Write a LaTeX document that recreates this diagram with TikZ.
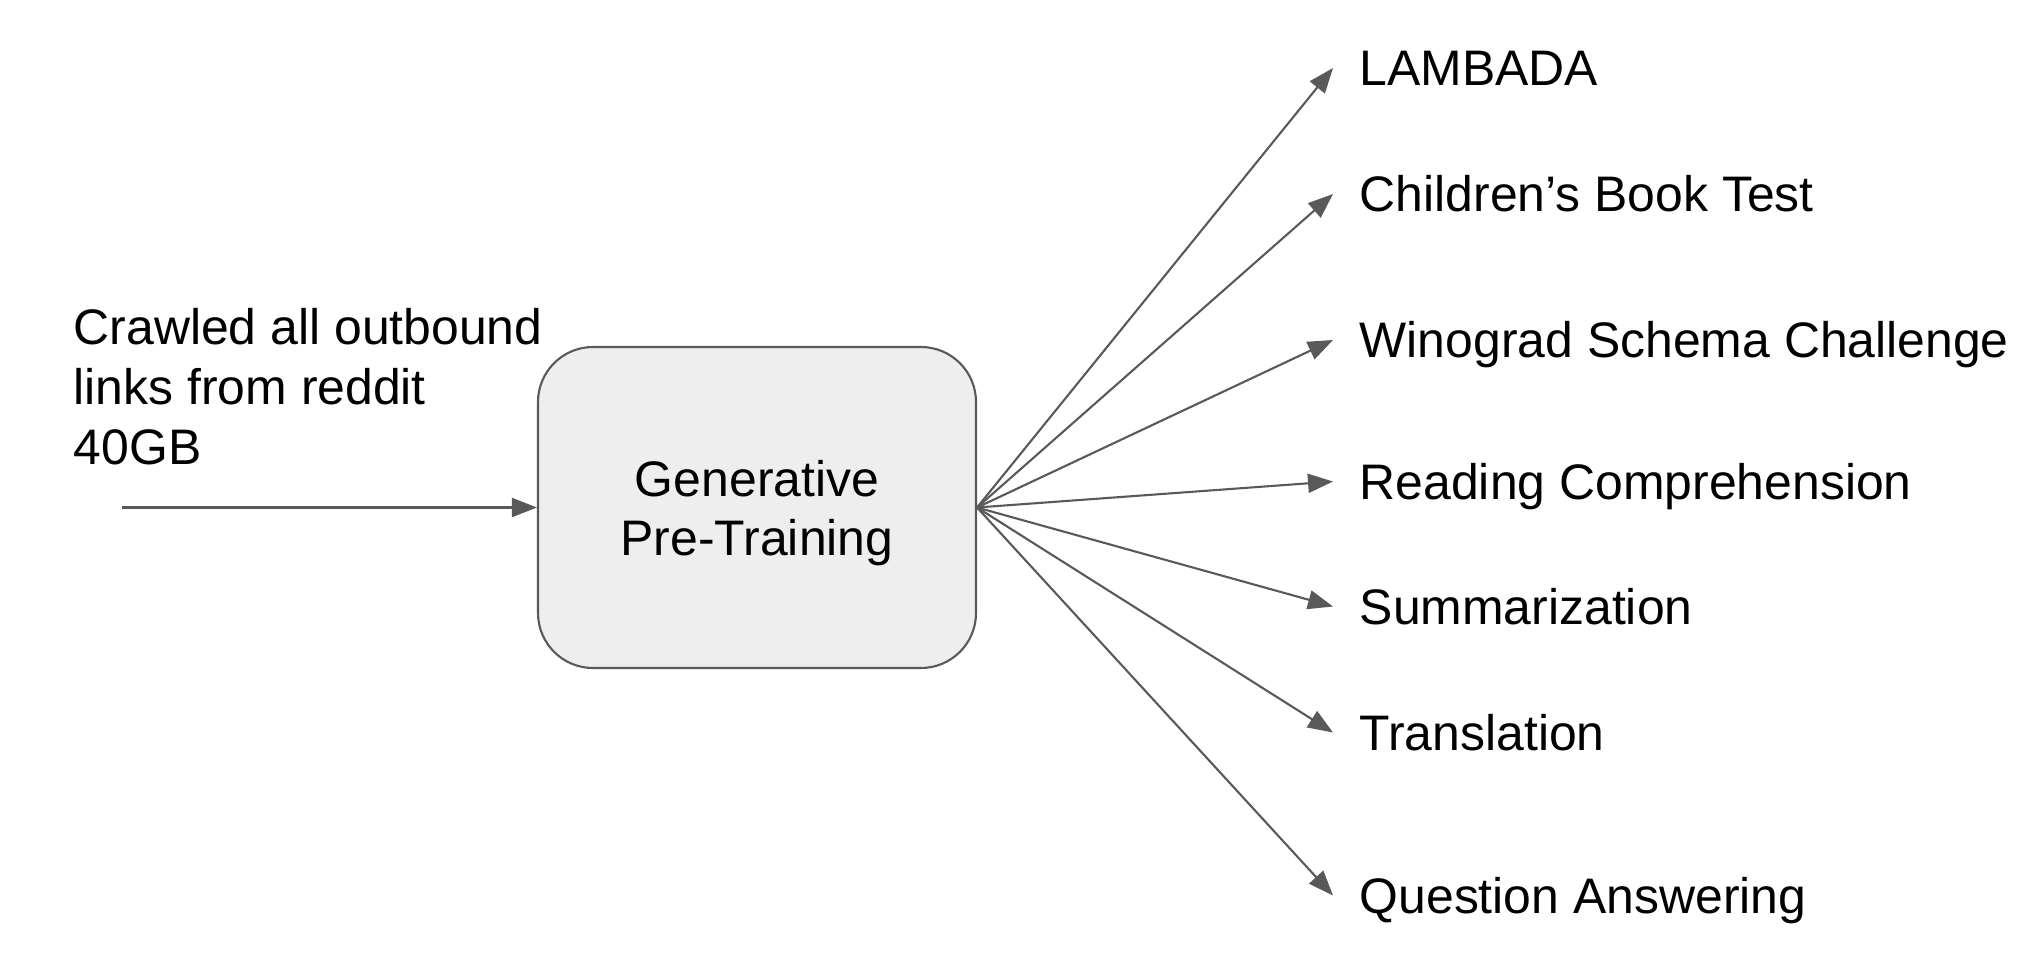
\documentclass[tikz,border=0pt]{standalone}
\usepackage{fontspec}
\setmainfont{Liberation Sans}
\usepackage{xcolor}
\usetikzlibrary{arrows.meta}
\definecolor{linegray}{HTML}{595959}
\definecolor{boxgray}{HTML}{EEEEEE}
\tikzset{
 task/.style={anchor=west,inner xsep=2.6mm,inner ysep=0pt,text height=3.55mm,text depth=0pt},
 arr/.style={-{Triangle[length=2.5mm,width=1.9mm]},line width=0.21mm,linegray},
}
\begin{document}
\begin{tikzpicture}[x=0.1mm,y=-0.1mm,font=\fontsize{14.2pt}{17pt}\selectfont]
 	\useasboundingbox (0,0) rectangle (2039,978);
 	\node[draw=linegray,fill=boxgray,line width=0.21mm,rounded corners=5.5mm,minimum width=43.8mm,minimum height=32.1mm,align=center,text depth=0pt,font=\fontsize{14.2pt}{16.8pt}\selectfont] (gpt) at (757,507.5) {Generative\\Pre-Training};
 	\node[anchor=north west,inner sep=0pt,align=left] (crawl) at (73,308) {Crawled all outbound\\links from reddit\\40GB};
 	\coordinate (src) at (122,507.5);
 	\node[task] (lambada) at (1333,68) {LAMBADA};
 	\node[task] (cbt) at (1333,194) {Children’s Book Test};
 	\node[task] (wsc) at (1333,340) {Winograd Schema Challenge};
 	\node[task] (rc) at (1333,481.5) {Reading Comprehension};
 	\node[task] (summ) at (1333,606.5) {Summarization};
 	\node[task] (transl) at (1333,732.5) {Translation};
 	\node[task] (qa) at (1333,895.5) {Question Answering};
 	\draw[arr] (src) -- (gpt.west);
 	\draw[arr] (gpt.east) -- (lambada.west);
 	\draw[arr] (gpt.east) -- (cbt.west);
 	\draw[arr] (gpt.east) -- (wsc.west);
 	\draw[arr] (gpt.east) -- (rc.west);
 	\draw[arr] (gpt.east) -- (summ.west);
 	\draw[arr] (gpt.east) -- (transl.west);
 	\draw[arr] (gpt.east) -- (qa.west);
\end{tikzpicture}
\end{document}
